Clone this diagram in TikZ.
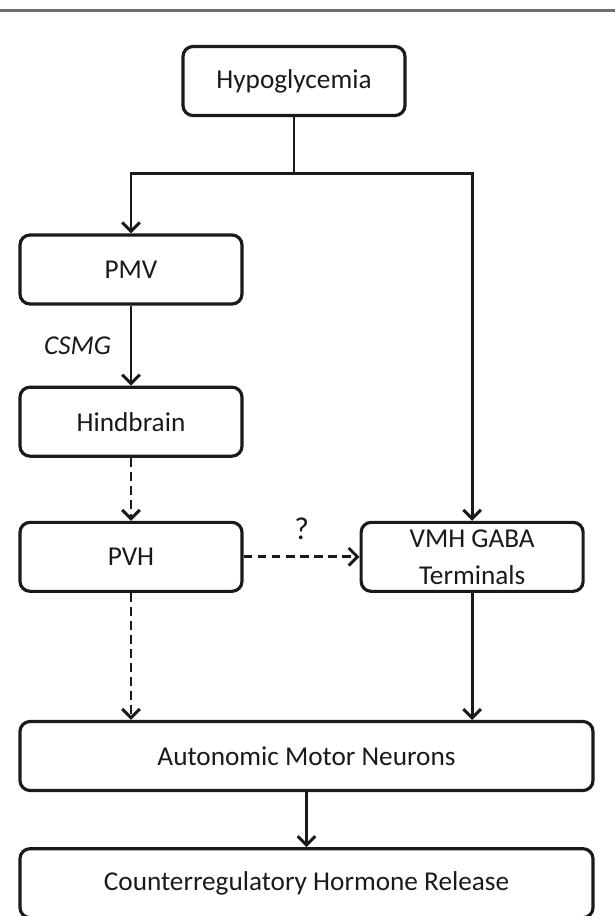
\documentclass[tikz,border=0pt]{standalone}
\usepackage{fontspec}
\setmainfont{Carlito}
\usetikzlibrary{positioning,arrows.meta}
\definecolor{rulegray}{HTML}{6E6E6E}
\definecolor{inkgray}{HTML}{1A1A1A}

\tikzset{
    stagebox/.style={draw, rectangle, rounded corners=0.2cm, line width=1.8pt, inkgray,
        text=inkgray, minimum width=4.44cm, minimum height=1.38cm, align=center,
        font=\fontsize{15.5}{21}\selectfont},
    wide/.style={minimum width=11.46cm},
    flow/.style={-{Straight Barb[length=5pt,width=10pt]}, line width=1.7pt, inkgray},
    maybe/.style={flow, dash pattern=on 5pt off 3pt}
}

\begin{document}
\begin{tikzpicture}[node distance=1cm and 1cm]
        \useasboundingbox (0,0) rectangle (12.3,-18.32);
        \draw[rulegray, line width=1.8pt] (0,-0.21) -- (12.3,-0.21);

        \node[stagebox] (hypo) at (5.88,-1.62) {Hypoglycemia};
        \node[stagebox] (pmv) at (2.62,-5.39) {PMV};
        \node[stagebox, below=1.6cm of pmv] (hindbrain) {Hindbrain};
        \node[stagebox, below=1.26cm of hindbrain] (pvh) {PVH};
        \node[stagebox, right=2.32cm of pvh] (vmh) {VMH GABA\\Terminals};
        \node[stagebox, wide] (motor) at (6.13,-15.12) {Autonomic Motor Neurons};
        \node[stagebox, wide, below=1.1cm of motor] (release) {Counterregulatory Hormone Release};

        \coordinate[below=1.12cm of hypo.south] (split);

        \draw[line width=1.7pt, inkgray] (hypo.south) -- (split);
        \draw[flow] (split) -| (pmv.north);
        \draw[flow] (split) -| (vmh.north);
        \draw[flow] (pmv) -- (hindbrain) node[midway, left=0.25cm, text=inkgray, font=\fontsize{15.5}{18}\selectfont\itshape] {CSMG};
        \draw[maybe] (hindbrain) -- (pvh);
        \draw[maybe] (pvh) -- (vmh) node[midway, above=0.2cm, text=inkgray, font=\fontsize{18}{20}\selectfont] {?};
        \draw[maybe] (pvh.south) -- (pvh.south |- motor.north);
        \draw[flow] (vmh.south) -- (vmh.south |- motor.north);
        \draw[flow] (motor) -- (release);
    \end{tikzpicture}
\end{document}
